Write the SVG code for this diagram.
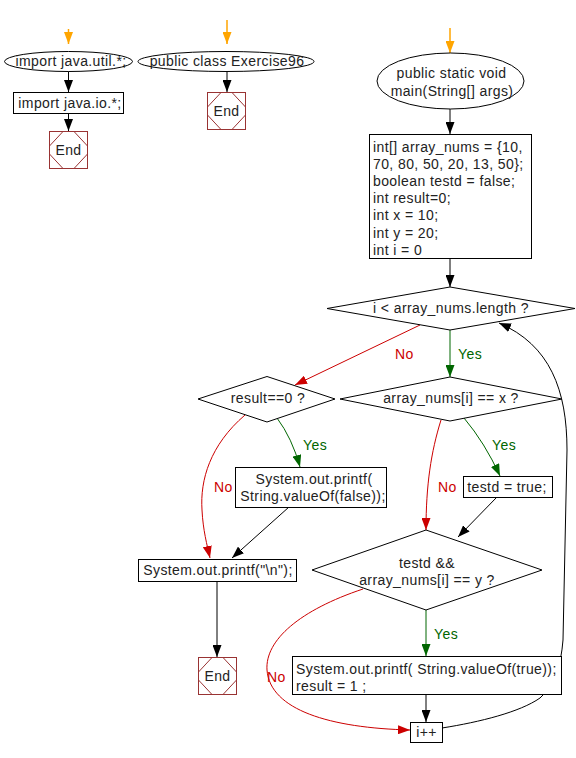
<svg xmlns="http://www.w3.org/2000/svg" width="576" height="758" viewBox="0 0 576 758">
<style>
text{font-family:"Liberation Sans",Arial,sans-serif;font-size:14px;letter-spacing:0.4px;fill:#222}
.c{text-anchor:middle}
.node{fill:#fff;stroke:#000;stroke-width:1}
.end{fill:#fff;stroke:#993333;stroke-width:1}
.endd{fill:none;stroke:#993333;stroke-width:1}
.k{fill:none;stroke:#000;stroke-width:1}
.g{fill:none;stroke:#006600;stroke-width:1}
.r{fill:none;stroke:#cc0000;stroke-width:1}
.o{fill:none;stroke:#ffa500;stroke-width:1.5}
.yes{fill:#006600}
.no{fill:#cc0000}
</style>
<defs>
<marker id="ak" markerUnits="userSpaceOnUse" markerWidth="13" markerHeight="9" refX="12" refY="4.5" orient="auto"><path d="M0,0 L12,4.5 L0,9 z" fill="#000"/></marker>
<marker id="ag" markerUnits="userSpaceOnUse" markerWidth="13" markerHeight="9" refX="12" refY="4.5" orient="auto"><path d="M0,0 L12,4.5 L0,9 z" fill="#006600"/></marker>
<marker id="ar" markerUnits="userSpaceOnUse" markerWidth="13" markerHeight="9" refX="12" refY="4.5" orient="auto"><path d="M0,0 L12,4.5 L0,9 z" fill="#cc0000"/></marker>
<marker id="ao" markerUnits="userSpaceOnUse" markerWidth="13" markerHeight="9" refX="12" refY="4.5" orient="auto"><path d="M0,0 L12,4.5 L0,9 z" fill="#ffa500"/></marker>
</defs>

<g id="connectors">
<path class="o" d="M68.5,29 L68.5,44" marker-end="url(#ao)"/>
<path class="o" d="M227,20 L227,44" marker-end="url(#ao)"/>
<path class="o" d="M450,28 L450,53" marker-end="url(#ao)"/>
<path class="k" d="M68.5,71 L68.5,92" marker-end="url(#ak)"/>
<path class="k" d="M68.5,113 L68.5,131" marker-end="url(#ak)"/>
<path class="k" d="M227,71 L227,92" marker-end="url(#ak)"/>
<path class="k" d="M450,109 L450,134" marker-end="url(#ak)"/>
<path class="k" d="M450,259 L450,287" marker-end="url(#ak)"/>
<path class="g" d="M450,330 L450,377" marker-end="url(#ag)"/>
<path class="r" d="M420,325 L295,385" marker-end="url(#ar)"/>
<path class="g" d="M277,418 Q292,438 300,467" marker-end="url(#ag)"/>
<path class="r" d="M245,415 C210,445 200,480 202,510 C203,530 207,545 210,558" marker-end="url(#ar)"/>
<path class="k" d="M289,507 L232,558" marker-end="url(#ak)"/>
<path class="k" d="M217,582 L217,657" marker-end="url(#ak)"/>
<path class="g" d="M464,418 Q485,443 500,476" marker-end="url(#ag)"/>
<path class="r" d="M441,420 C431,452 426,485 426,530" marker-end="url(#ar)"/>
<path class="k" d="M497,497 L458,537" marker-end="url(#ak)"/>
<path class="g" d="M426,610 L426,656" marker-end="url(#ag)"/>
<path class="r" d="M363,589 C300,610 265,640 267,670 C270,710 330,728 410,730" marker-end="url(#ar)"/>
<path class="k" d="M426,695 L426,722" marker-end="url(#ak)"/>
<path class="k" d="M442,728 C480,722 520,712 540,698 C555,685 561,665 563,640 L567,450 C567,390 550,345 499,323" marker-end="url(#ak)"/>
<text class="no" x="395" y="359">No</text>
<text class="yes" x="458" y="359">Yes</text>
<text class="yes" x="303" y="450">Yes</text>
<text class="no" x="214" y="492">No</text>
<text class="yes" x="492" y="450">Yes</text>
<text class="no" x="438" y="492">No</text>
<text class="yes" x="434" y="639">Yes</text>
<text class="no" x="267" y="682">No</text>
</g>

<g id="import-util">
<ellipse class="node" cx="68.5" cy="61.5" rx="64" ry="10"/>
<text class="c" x="71" y="66">import java.util.*;</text>
</g>
<g id="import-io">
<rect class="node" x="13.5" y="92.5" width="110" height="21"/>
<text class="c" x="70" y="107.5">import java.io.*;</text>
</g>
<g id="end1">
<rect class="end" x="49.5" y="131.5" width="38" height="37"/>
<polygon class="endd" points="63,131.5 74,131.5 87.5,146 87.5,154 74,168.5 63,168.5 49.5,154 49.5,146"/>
<text class="c" x="68.5" y="155">End</text>
</g>

<g id="class-decl">
<ellipse class="node" cx="226" cy="61.5" rx="88" ry="10"/>
<text class="c" x="227" y="66">public class Exercise96</text>
</g>
<g id="end2">
<rect class="end" x="207.5" y="92.5" width="38" height="37"/>
<polygon class="endd" points="221,92.5 232,92.5 245.5,107 245.5,115 232,129.5 221,129.5 207.5,115 207.5,107"/>
<text class="c" x="226.5" y="116">End</text>
</g>

<g id="main">
<ellipse class="node" cx="450.5" cy="81" rx="73.5" ry="28"/>
<text class="c" x="451.5" y="78">public static void</text>
<text class="c" x="452" y="96">main(String[] args)</text>
</g>
<g id="init">
<rect class="node" x="369.5" y="134.5" width="162" height="124"/>
<text x="373" y="151.5">int[] array_nums = {10,</text>
<text x="373" y="168.7">70, 80, 50, 20, 13, 50};</text>
<text x="373" y="185.9">boolean testd = false;</text>
<text x="373" y="203.1">int result=0;</text>
<text x="373" y="220.3">int x = 10;</text>
<text x="373" y="237.5">int y = 20;</text>
<text x="373" y="254.7">int i = 0</text>
</g>
<g id="loop-cond">
<polygon class="node" points="450,287 575,308.5 450,330 327,308.5"/>
<text class="c" x="451" y="313">i &lt; array_nums.length ?</text>
</g>
<g id="result-check">
<polygon class="node" points="267,376.5 335,399 267,422 198,399"/>
<text class="c" x="268" y="403">result==0 ?</text>
</g>
<g id="x-check">
<polygon class="node" points="450,377 562,399 450,421 340,399"/>
<text class="c" x="451" y="403">array_nums[i] == x ?</text>
</g>
<g id="print-false">
<rect class="node" x="235.5" y="467.5" width="151" height="40"/>
<text class="c" x="314" y="484">System.out.printf(</text>
<text class="c" x="313" y="501">String.valueOf(false));</text>
</g>
<g id="set-testd">
<rect class="node" x="463.5" y="476.5" width="89" height="21"/>
<text class="c" x="507" y="492">testd = true;</text>
</g>
<g id="print-newline">
<rect class="node" x="138.5" y="559.5" width="158" height="22"/>
<text class="c" x="218" y="575">System.out.printf("\n");</text>
</g>
<g id="end3">
<rect class="end" x="198.5" y="657.5" width="38" height="37"/>
<polygon class="endd" points="212,657.5 223,657.5 236.5,672 236.5,680 223,694.5 212,694.5 198.5,680 198.5,672"/>
<text class="c" x="217.5" y="681">End</text>
</g>
<g id="y-check">
<polygon class="node" points="426,530 542,570 426,610 312,570"/>
<text class="c" x="427" y="568">testd &amp;&amp;</text>
<text class="c" x="427" y="585">array_nums[i] == y ?</text>
</g>
<g id="print-true">
<rect class="node" x="292.5" y="656.5" width="269" height="38"/>
<text x="296" y="674">System.out.printf( String.valueOf(true));</text>
<text x="296" y="691">result = 1 ;</text>
</g>
<g id="increment">
<rect class="node" x="410.5" y="722.5" width="32" height="20"/>
<text class="c" x="426.5" y="737">i++</text>
</g>
</svg>
